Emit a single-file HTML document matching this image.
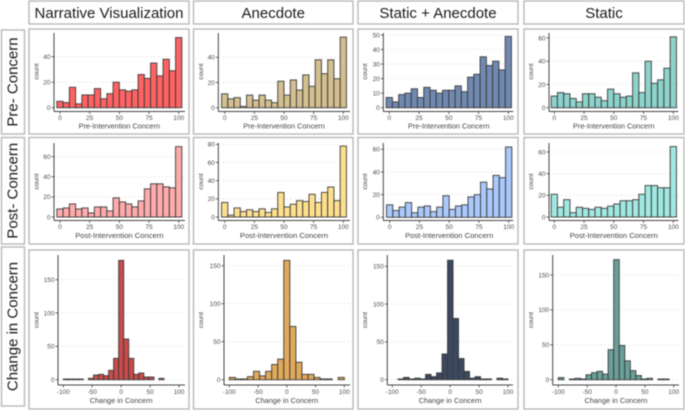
<!DOCTYPE html>
<html lang="en">
<head>
<meta charset="utf-8">
<title>Concern histograms</title>
<style>
html,body{margin:0;padding:0;background:#fff;width:685px;height:411px;overflow:hidden}
svg{display:block;font-family:"Liberation Sans",sans-serif;filter:blur(.45px)}
</style>
</head>
<body>
<svg id="chart" width="685" height="411" viewBox="0 0 685 411" xmlns="http://www.w3.org/2000/svg"></svg>
<script>
// Series values
const preNarrative = [5,4,16,3,10,10,15,7,11,20,14,13,14,26,23,35,25,38,29,55];
const preAnecdote = [11,7,8,1,10,6,10,6,4,21,10,22,14,26,17,38,27,38,23,56];
const preStaticAnecdote = [7,4,9,10,13,7,14,12,10,12,12,15,11,21,23,35,29,32,26,49];
const preStatic = [10,13,12,8,5,12,12,9,6,16,12,9,10,30,13,40,21,24,34,61];
const postNarrative = [8,9,13,8,9,4,10,10,6,19,15,13,10,16,28,33,33,30,29,70];
const postAnecdote = [16,2,10,6,8,6,9,5,9,27,11,14,18,17,25,16,27,33,18,78];
const postStaticAnecdote = [11,6,9,13,4,9,10,5,9,19,7,10,11,18,20,31,25,37,35,62];
const postStatic = [21,9,16,4,9,8,7,9,8,10,12,15,15,16,21,29,29,27,27,65];
const changeNarrative = [1,1,1,1,0,2,7,8,6,14,32,179,61,32,8,10,4,4,0,2];
const changeAnecdote = [3,1,1,4,11,5,11,20,27,157,70,23,7,7,3,1,1,0,3];
const changeStaticAnecdote = [1,3,1,2,1,7,4,9,34,158,81,28,11,2,4,1,1,0,2,1];
const changeStatic = [3,0,1,2,1,7,10,12,8,43,172,49,27,13,6,1,2,0,1,1];

// Tick labels
const concernTicks = [0,25,50,75,100];
const changeTicks = [-100,-50,0,50,100];
const ticksBy20To40 = [0,20,40];
const ticksBy10To50 = [0,10,20,30,40,50];
const ticksBy20To60 = [0,20,40,60];
const ticksBy20To80 = [0,20,40,60,80];
const ticksBy50To150 = [0,50,100,150];

// Category labels
const columnTitles = ["Narrative Visualization","Anecdote","Static + Anecdote","Static"];
const rowTitles = ["Pre- Concern","Post- Concern","Change in Concern"];
const axisTitles = ["Pre-Intervention Concern","Post-Intervention Concern","Change in Concern"];

const svg = document.getElementById('chart');
const NS = 'http://www.w3.org/2000/svg';
function make(tag, attrs, parent){
  const e = document.createElementNS(NS, tag);
  for (const k in attrs) e.setAttribute(k, attrs[k]);
  (parent || svg).appendChild(e);
  return e;
}

// Frames and strip labels
const colBoxes = [[29,189],[193.5,353],[358,518],[524,684]];
const rowBoxes = [[30,134],[137.5,244],[247,406]];
const panelRows = [[29,134],[137.5,244],[250,409]];
columnTitles.forEach(function(t,i){
  const b = colBoxes[i];
  const r = make('rect',{x:b[0],y:1,width:b[1]-b[0],height:23,fill:'#fff',stroke:'#b8b8b8','stroke-width':1.4});
  
  
  const x = make('text',{x:(b[0]+b[1])/2,y:18,'text-anchor':'middle','font-size':15,fill:'#1a1a1a'});
  x.textContent = t;
  
  
});
rowTitles.forEach(function(t,i){
  const b = rowBoxes[i];
  const r = make('rect',{x:1.5,y:b[0],width:23,height:b[1]-b[0],fill:'#fff',stroke:'#b8b8b8','stroke-width':1.4});
  
  
  const cy = (b[0]+b[1])/2;
  const x = make('text',{x:13,y:cy,'text-anchor':'middle','dominant-baseline':'central','font-size':15,fill:'#1a1a1a',transform:'rotate(-90 13 '+cy+')'});
  x.textContent = t;
  
  
  colBoxes.forEach(function(c){
    const p = make('rect',{x:c[0],y:panelRows[i][0],width:c[1]-c[0],height:panelRows[i][1]-panelRows[i][0],fill:'#fff',stroke:'#b8b8b8','stroke-width':1.4});
    
    
  });
});

// Axis layouts per row
const rowLayouts = [
  {axisY:111.5, top:33,  tickLabelY:120, titleY:128.5, countY:71.5, titleSize:7.3},
  {axisY:220.5, top:143, tickLabelY:229, titleY:238,   countY:181.5, titleSize:7.6},
  {axisY:385,   top:255, tickLabelY:394, titleY:403,   countY:320,  titleSize:7.3}
];

function drawPanel(p){
  const L = rowLayouts[p.row];
  const g = make('g',{});
  
  
  const xScale = function(v){ return p.xPx0 + (v - p.xDom0) * (p.xPx1 - p.xPx0) / (p.xDom1 - p.xDom0); };
  const yScale = function(v){ return p.yPx0 + (p.yPxRef - p.yPx0) * v / p.yRef; };

  p.yTicks.forEach(function(t){
    const y = yScale(t);
    const grid = make('line',{x1:p.left,x2:p.right,y1:y,y2:y,stroke:'#cfcfcf','stroke-width':.8,'stroke-dasharray':'1 3'},g);
    
    
  });

  p.values.forEach(function(v,i){
    const x0 = xScale(p.start + i*p.width);
    const x1 = xScale(p.start + (i+1)*p.width);
    const y = yScale(v);
    const bar = make('rect',{x:x0,y:y,width:x1-x0,height:yScale(0)-y,fill:p.fill,stroke:'#3a3a3a','stroke-width':1,'stroke-opacity':.9},g);
    
    
  });

  const ya = make('line',{x1:p.left,x2:p.left,y1:L.top,y2:L.axisY,stroke:'#444','stroke-width':1},g);
  
  
  const xa = make('line',{x1:p.left,x2:p.right,y1:L.axisY,y2:L.axisY,stroke:'#444','stroke-width':1},g);
  
  

  p.yTicks.forEach(function(t){
    const y = yScale(t);
    const m = make('line',{x1:p.left-2.5,x2:p.left,y1:y,y2:y,stroke:'#444','stroke-width':.8},g);
    
    
    const l = make('text',{x:p.left-3.5,y:y+2.3,'text-anchor':'end','font-size':6.5,fill:'#4d4d4d'},g);
    l.textContent = t;
    
    
  });
  p.xTicks.forEach(function(t){
    const x = xScale(t);
    const m = make('line',{x1:x,x2:x,y1:L.axisY,y2:L.axisY+2.5,stroke:'#444','stroke-width':.8},g);
    
    
    const l = make('text',{x:x,y:L.tickLabelY,'text-anchor':'middle','font-size':6.5,fill:'#4d4d4d'},g);
    l.textContent = t;
    
    
  });

  const xt = make('text',{x:(xScale(p.xDom0)+xScale(p.xDom1))/2,y:L.titleY,'text-anchor':'middle','font-size':L.titleSize,fill:'#444'},g);
  xt.textContent = axisTitles[p.row];
  
  
  const yt = make('text',{x:p.countX,y:L.countY,'text-anchor':'middle','font-size':6.6,fill:'#444',transform:'rotate(-90 '+p.countX+' '+L.countY+')'},g);
  yt.textContent = 'count';
  
  
}

const preW = 100/19, preS = -50/19;
const panels = [
  {row:0,values:preNarrative,fill:'#ff6262',yTicks:ticksBy20To40,xTicks:concernTicks,xDom0:0,xDom1:100,xPx0:60,xPx1:178.7,yPx0:107.7,yRef:40,yPxRef:56.7,left:54,right:185,countX:38.5,start:preS,width:preW},
  {row:0,values:preAnecdote,fill:'#d3bf8f',yTicks:ticksBy20To40,xTicks:concernTicks,xDom0:0,xDom1:100,xPx0:224.7,xPx1:343.3,yPx0:107.7,yRef:40,yPxRef:57.3,left:218.3,right:350,countX:203,start:preS,width:preW},
  {row:0,values:preStaticAnecdote,fill:'#7089b0',yTicks:ticksBy10To50,xTicks:concernTicks,xDom0:0,xDom1:100,xPx0:389.3,xPx1:508.3,yPx0:107.7,yRef:50,yPxRef:35,left:383.3,right:513.3,countX:367,start:preS,width:preW},
  {row:0,values:preStatic,fill:'#8cd3cb',yTicks:ticksBy20To60,xTicks:concernTicks,xDom0:0,xDom1:100,xPx0:554.3,xPx1:673.3,yPx0:107.7,yRef:60,yPxRef:38,left:549,right:678.3,countX:533,start:preS,width:preW},
  {row:1,values:postNarrative,fill:'#ffabab',yTicks:ticksBy20To60,xTicks:concernTicks,xDom0:0,xDom1:100,xPx0:60,xPx1:178.7,yPx0:217,yRef:60,yPxRef:156.7,left:54,right:185,countX:38.5,start:preS,width:preW},
  {row:1,values:postAnecdote,fill:'#fde08e',yTicks:ticksBy20To80,xTicks:concernTicks,xDom0:0,xDom1:100,xPx0:224.7,xPx1:343.3,yPx0:217,yRef:80,yPxRef:144.3,left:218.3,right:350,countX:203,start:preS,width:preW},
  {row:1,values:postStaticAnecdote,fill:'#aac8fa',yTicks:ticksBy20To60,xTicks:concernTicks,xDom0:0,xDom1:100,xPx0:389.7,xPx1:508.7,yPx0:217.3,yRef:60,yPxRef:149.3,left:383.3,right:513.3,countX:367,start:preS,width:preW},
  {row:1,values:postStatic,fill:'#a0e8e1',yTicks:ticksBy20To60,xTicks:concernTicks,xDom0:0,xDom1:100,xPx0:554.3,xPx1:673.3,yPx0:217,yRef:60,yPxRef:152,left:549,right:678.3,countX:533,start:preS,width:preW},
  {row:2,values:changeNarrative,fill:'#c94b4b',yTicks:ticksBy50To150,xTicks:changeTicks,xDom0:-100,xDom1:100,xPx0:63.3,xPx1:179,yPx0:379.7,yRef:150,yPxRef:279.7,left:58,right:185,countX:38.5,start:-100,width:8.7},
  {row:2,values:changeAnecdote,fill:'#e1aa5a',yTicks:ticksBy50To150,xTicks:changeTicks,xDom0:-100,xDom1:100,xPx0:229.3,xPx1:344.3,yPx0:379.7,yRef:150,yPxRef:265.7,left:224,right:350,countX:203,start:-100,width:200/19},
  {row:2,values:changeStaticAnecdote,fill:'#3c4860',yTicks:ticksBy50To150,xTicks:changeTicks,xDom0:-100,xDom1:100,xPx0:392.3,xPx1:508,yPx0:379.7,yRef:150,yPxRef:266.3,left:387.3,right:513,countX:367,start:-90,width:9.5},
  {row:2,values:changeStatic,fill:'#69a09b',yTicks:ticksBy50To150,xTicks:changeTicks,xDom0:-100,xDom1:100,xPx0:558.3,xPx1:673.7,yPx0:379.7,yRef:150,yPxRef:275,left:552.7,right:679,countX:533,start:-100,width:9.6}
];
panels.forEach(drawPanel);
</script>
</body>
</html>
